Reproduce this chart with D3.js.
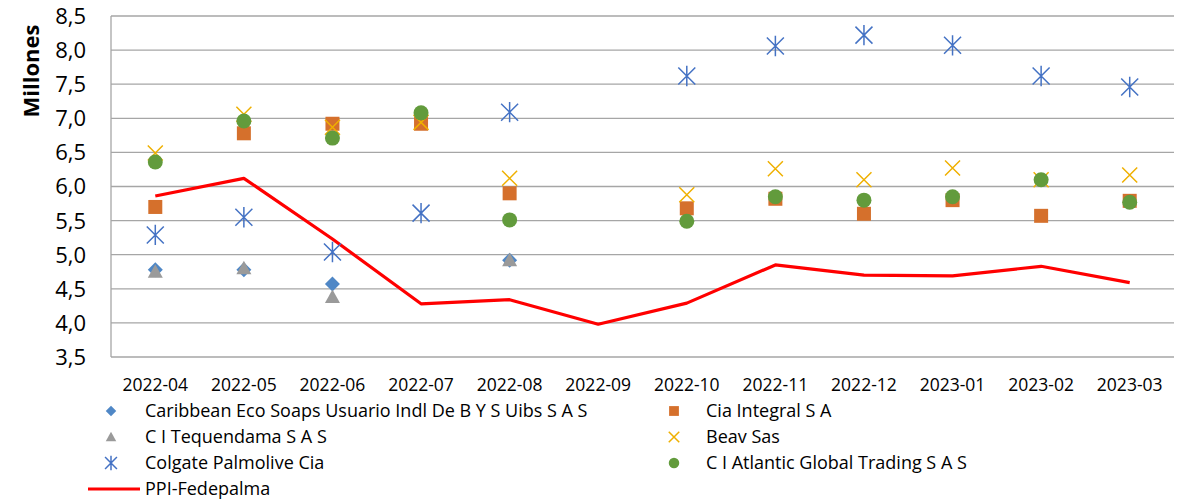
<!DOCTYPE html>
<html>
<head>
<meta charset="utf-8">
<script src="https://cdn.jsdelivr.net/npm/d3@7"></script>
<style>
  body { margin: 0; background: #fff; }
  svg { font-family: "Open Sans", "Noto Sans", sans-serif; }
</style>
</head>
<body>
<div id="chart"></div>
<script>
// months on the x axis
const months = ["2022-04", "2022-05", "2022-06", "2022-07", "2022-08", "2022-09",
  "2022-10", "2022-11", "2022-12", "2023-01", "2023-02", "2023-03"];

// values in millions (null = no data that month)
const caribbean = [4.78, 4.78, 4.57, null, 4.92, null, null, null, null, null, null, null];
const tequendama = [4.75, 4.80, 4.38, null, 4.92, null, null, null, null, null, null, null];
const ciaIntegral = [5.70, 6.78, 6.92, 6.92, 5.90, null, 5.68, 5.82, 5.60, 5.80, 5.57, 5.79];
const beav = [6.49, 7.06, 6.87, 6.94, 6.12, null, 5.88, 6.26, 6.10, 6.27, 6.10, 6.17];
const colgate = [5.29, 5.55, 5.04, 5.61, 7.09, null, 7.62, 8.06, 8.22, 8.07, 7.62, 7.46];
const atlantic = [6.36, 6.96, 6.71, 7.08, 5.51, null, 5.49, 5.85, 5.80, 5.85, 6.10, 5.77];
const ppi = [5.86, 6.12, 5.23, 4.28, 4.34, 3.98, 4.29, 4.85, 4.70, 4.69, 4.83, 4.59];

const yTicks = [3.5, 4.0, 4.5, 5.0, 5.5, 6.0, 6.5, 7.0, 7.5, 8.0, 8.5];

const series = [
  { name: "Caribbean Eco Soaps Usuario Indl De B Y S Uibs S A S", values: caribbean, shape: "diamond", color: "#4f87c6" },
  { name: "Cia Integral S A", values: ciaIntegral, shape: "square", color: "#d5702c" },
  { name: "C I Tequendama S A S", values: tequendama, shape: "triangle", color: "#9a9a9a" },
  { name: "Beav Sas", values: beav, shape: "x", color: "#efb000" },
  { name: "Colgate Palmolive Cia", values: colgate, shape: "star", color: "#4472c4" },
  { name: "C I Atlantic Global Trading S A S", values: atlantic, shape: "circle", color: "#629b3c" }
];
// draw order (back to front) as in the source chart
const drawOrder = [0, 2, 1, 3, 4, 5];

const width = 1180, height = 501;
const margin = { top: 16, right: 6, bottom: 144, left: 111 };

const svg = d3.select("#chart").append("svg")
  .attr("width", width).attr("height", height);

const x = d3.scaleBand().domain(months).range([margin.left, width - margin.right]);
const y = d3.scaleLinear().domain([3.5, 8.5]).range([height - margin.bottom, margin.top]);
const fmt = v => d3.format(".1f")(v).replace(".", ",");

// grid lines
svg.append("g")
  .selectAll("line").data(yTicks).enter().append("line")
  .attr("x1", margin.left).attr("x2", width - margin.right)
  .attr("y1", d => y(d)).attr("y2", d => y(d))
  .attr("stroke", "#a6a6a6").attr("stroke-width", 1.3);

// left axis line
svg.append("line")
  .attr("x1", margin.left).attr("x2", margin.left)
  .attr("y1", y(8.5)).attr("y2", y(3.5))
  .attr("stroke", "#a6a6a6").attr("stroke-width", 1.3);

// y tick labels
svg.append("g")
  .selectAll("text").data(yTicks).enter().append("text")
  .attr("x", 86).attr("y", d => y(d)).attr("dy", "0.36em")
  .attr("text-anchor", "end")
  .style("font-size", "22px").attr("fill", "#000")
  .text(fmt);

// y axis title
svg.append("text")
  .attr("transform", `translate(39, 71) rotate(-90)`)
  .attr("text-anchor", "middle")
  .style("font-size", "22px").style("font-weight", "bold")
  .text("Millones");

// x tick labels
svg.append("g")
  .selectAll("text").data(months).enter().append("text")
  .attr("x", d => x(d) + x.bandwidth() / 2).attr("y", 391)
  .attr("text-anchor", "middle")
  .style("font-size", "17.5px")
  .text(d => d);

// marker path generator
function markerPath(shape, s) {
  const h = s / 2;
  switch (shape) {
    case "diamond": return `M0,${-h}L${h},0L0,${h}L${-h},0Z`;
    case "square": return `M${-h},${-h}H${h}V${h}H${-h}Z`;
    case "triangle": return `M0,${-h}L${h},${h * 0.8}L${-h},${h * 0.8}Z`;
    case "x": return `M${-h},${-h}L${h},${h}M${h},${-h}L${-h},${h}`;
    case "star": return `M${-h},${-h}L${h},${h}M${h},${-h}L${-h},${h}M0,${-h * 1.2}V${h * 1.2}`;
    default: return "";
  }
}

function drawMarker(g, shape, color, size) {
  if (shape === "circle") {
    g.append("circle").attr("r", size / 2).attr("fill", color);
  } else if (shape === "x" || shape === "star") {
    g.append("path").attr("d", markerPath(shape, size))
      .attr("fill", "none").attr("stroke", color).attr("stroke-width", 1.5);
  } else {
    g.append("path").attr("d", markerPath(shape, size)).attr("fill", color);
  }
}

const sizes = { diamond: 15, square: 14, triangle: 15, x: 15, star: 17, circle: 15 };

// PPI line
const line = d3.line()
  .x((d, i) => x(months[i]) + x.bandwidth() / 2)
  .y(d => y(d));
svg.append("path")
  .datum(ppi)
  .attr("d", line)
  .attr("fill", "none").attr("stroke", "#ff0000").attr("stroke-width", 3.2)
  .attr("stroke-linejoin", "round");

// scatter series
drawOrder.forEach(idx => {
  const s = series[idx];
  s.values.forEach((v, i) => {
    if (v == null) return;
    const g = svg.append("g")
      .attr("transform", `translate(${x(months[i]) + x.bandwidth() / 2},${y(v)})`);
    drawMarker(g, s.shape, s.color, sizes[s.shape]);
  });
});

// legend
const legendRows = [411, 437, 463];
series.forEach((s, i) => {
  const col = i % 2, row = Math.floor(i / 2);
  const mx = col === 0 ? 111 : 674;
  const tx = col === 0 ? 145 : 706;
  const g = svg.append("g").attr("transform", `translate(${mx},${legendRows[row]})`);
  drawMarker(g, s.shape, s.color, sizes[s.shape] * 0.7);
  svg.append("text").attr("x", tx).attr("y", legendRows[row]).attr("dy", "0.36em")
    .style("font-size", "18px").text(s.name);
});
svg.append("line")
  .attr("x1", 88).attr("x2", 140).attr("y1", 489).attr("y2", 489)
  .attr("stroke", "#ff0000").attr("stroke-width", 3.2);
svg.append("text").attr("x", 145).attr("y", 489).attr("dy", "0.36em")
  .style("font-size", "18px").text("PPI-Fedepalma");
</script>
</body>
</html>
